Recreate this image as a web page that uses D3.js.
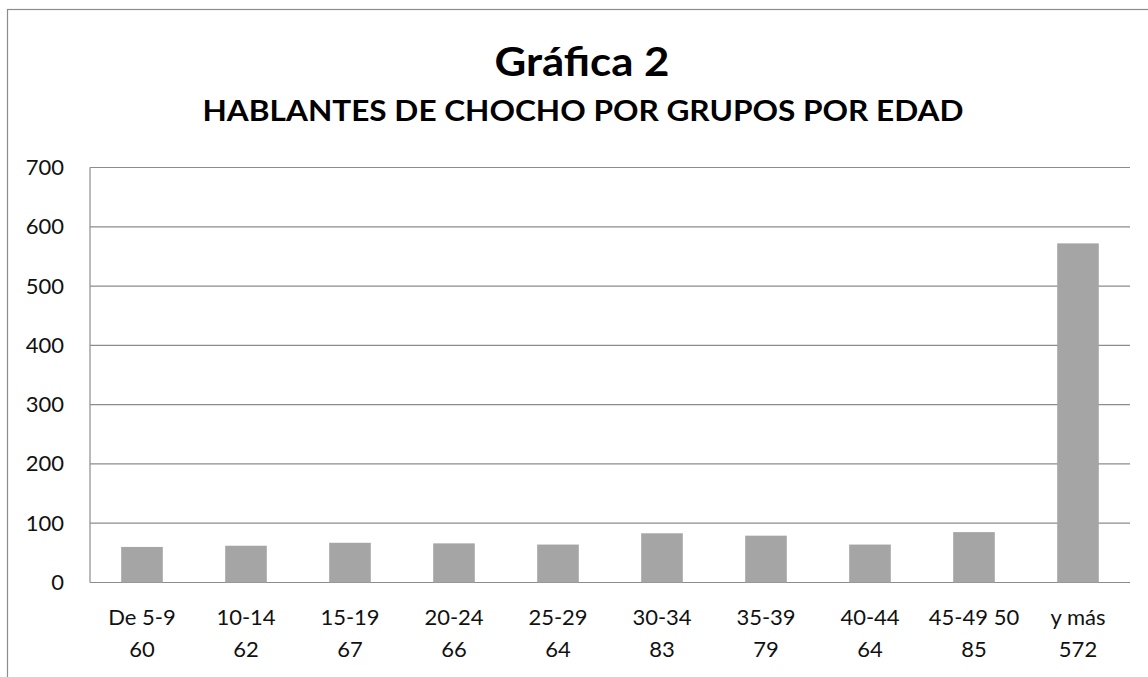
<!DOCTYPE html>
<html>
<head>
<meta charset="utf-8">
<script src="https://cdn.jsdelivr.net/npm/d3@7"></script>
<style>
  html, body { margin: 0; padding: 0; background: #fff; }
  svg { display: block; font-family: Lato, "Open Sans", sans-serif; }
</style>
</head>
<body>
<svg id="chart" width="1148" height="677"></svg>
<script>
const categories = ["De 5-9", "10-14", "15-19", "20-24", "25-29", "30-34", "35-39", "40-44", "45-49 50", "y más"];
const valueLabels = ["60", "62", "67", "66", "64", "83", "79", "64", "85", "572"];
const values = [60, 62, 67, 66, 64, 83, 79, 64, 85, 572];
const yTicks = [0, 100, 200, 300, 400, 500, 600, 700];
const titleText = "Gráfica 2";
const subtitleText = "HABLANTES DE CHOCHO POR GRUPOS POR EDAD";

const svg = d3.select("#chart");
const W = 1148, H = 677;
const plot = { left: 90, right: 1130, top: 167.5, bottom: 582.5 };

// outer frame (extends beyond the viewport on right & bottom)
svg.append("rect")
  .attr("x", 7.5).attr("y", 9.5)
  .attr("width", W + 20).attr("height", H + 20)
  .attr("fill", "none").attr("stroke", "#8c8c8c").attr("stroke-width", 1.2);

const x = d3.scaleBand()
  .domain(categories)
  .range([plot.left, plot.right])
  .paddingInner(0.6)
  .paddingOuter(0.3);

const y = d3.scaleLinear()
  .domain([0, 700])
  .range([plot.bottom, plot.top]);

// gridlines
svg.append("g")
  .selectAll("line")
  .data(yTicks)
  .join("line")
  .attr("x1", plot.left).attr("x2", plot.right)
  .attr("y1", d => y(d)).attr("y2", d => y(d))
  .attr("stroke", "#8c8c8c").attr("stroke-width", 1.2);

// left axis line
svg.append("line")
  .attr("x1", plot.left).attr("x2", plot.left)
  .attr("y1", plot.top).attr("y2", plot.bottom)
  .attr("stroke", "#8c8c8c").attr("stroke-width", 1.2);

// y tick labels via axis
const yAxis = d3.axisLeft(y).tickValues(yTicks).tickSize(0).tickPadding(26);
const ya = svg.append("g").attr("transform", `translate(${plot.left},0)`).call(yAxis);
ya.select(".domain").remove();
ya.selectAll("text")
  .attr("font-family", "Lato, sans-serif")
  .attr("font-size", 22)
  .attr("fill", "#111");

// bars
svg.append("g")
  .selectAll("rect")
  .data(values)
  .join("rect")
  .attr("x", (d, i) => x(categories[i]))
  .attr("width", x.bandwidth())
  .attr("y", d => y(d))
  .attr("height", d => y(0) - y(d))
  .attr("fill", "#a5a5a5");

// x labels (two lines)
const xl = svg.append("g");
categories.forEach((c, i) => {
  const cx = x(c) + x.bandwidth() / 2;
  const t = xl.append("text")
    .attr("x", cx).attr("y", 625)
    .attr("text-anchor", "middle")
    .attr("font-size", 22).attr("fill", "#111");
  t.append("tspan").attr("x", cx).attr("y", 625).text(c);
  t.append("tspan").attr("x", cx).attr("y", 657).text(valueLabels[i]);
});

// titles
svg.append("text")
  .attr("x", 582).attr("y", 76)
  .attr("text-anchor", "middle")
  .attr("font-weight", "bold").attr("font-size", 40)
  .attr("textLength", 175).attr("lengthAdjust", "spacingAndGlyphs")
  .attr("fill", "#000")
  .text(titleText);

svg.append("text")
  .attr("x", 583).attr("y", 121)
  .attr("text-anchor", "middle")
  .attr("font-weight", "bold").attr("font-size", 29)
  .attr("textLength", 761).attr("lengthAdjust", "spacingAndGlyphs")
  .attr("fill", "#000")
  .text(subtitleText);
</script>
</body>
</html>
